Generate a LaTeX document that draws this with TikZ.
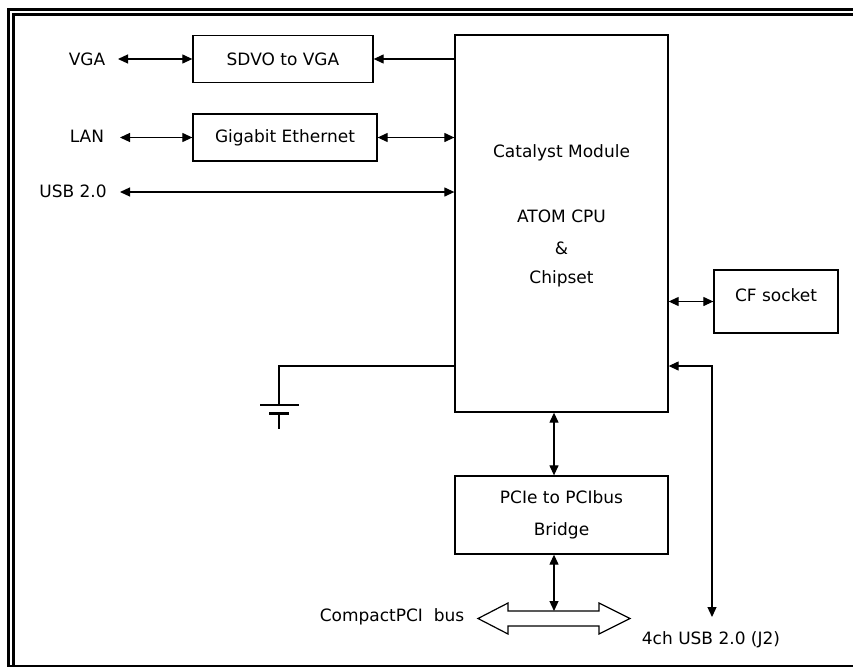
\documentclass[tikz,border=0pt]{standalone}
\usepackage{fontspec}
\setmainfont{DejaVu Sans}
\usetikzlibrary{arrows.meta}
\begin{document}
\begin{tikzpicture}[x=1pt,y=-1pt,
  blk/.style={draw,line width=1.3pt,inner sep=0pt,font=\fontsize{17}{20}\selectfont},
  lbl/.style={inner sep=0pt,font=\fontsize{17}{20}\selectfont},
  conn/.style={line width=1.2pt,arrows={Triangle[length=10pt,width=9pt]-Triangle[length=10pt,width=9pt]}},
  connr/.style={line width=1.2pt,-{Triangle[length=10pt,width=9pt]}},
  frame/.style={line width=3pt}]
\useasboundingbox (0,0) rectangle (853,667);
% frame
\draw[frame] (853,9.5) -- (8.5,9.5) -- (8.5,667);
\draw[frame] (853,14.5) -- (13.5,14.5) -- (13.5,665);
\draw[line width=2pt] (8.5,665.5) -- (853,665.5);
% blocks
\node[blk,minimum width=180pt,minimum height=47pt] (sdvo) at (283,59) {SDVO to VGA};
\node[blk,minimum width=184pt,minimum height=47pt] (gig) at (285,137.5) {Gigabit Ethernet};
\node[blk,minimum width=213pt,minimum height=377pt] (cat) at (561.5,223.5) {};
\node[lbl] (t1) at (561.5,153) {Catalyst Module};
\node[lbl] (t2) at (561.5,216) {ATOM CPU};
\node[lbl] (t3) at (561.5,248) {\&};
\node[lbl] (t4) at (561.5,279) {Chipset};
\node[blk,minimum width=124pt,minimum height=63pt] (cf) at (776,301.5) {};
\node[lbl] (cft) at (776,295) {CF socket};
\node[blk,minimum width=213pt,minimum height=78pt,align=center,font=\fontsize{17}{32}\selectfont] (br) at (561.5,515) {PCIe to PCIbus\\Bridge};
% labels
\node[lbl] (vga) at (87,59) {VGA};
\node[lbl] (lan) at (87,136) {LAN};
\node[lbl] (usb) at (73,191) {USB 2.0};
\node[lbl] (cpci) at (392,617) {CompactPCI\ \ bus};
\node[lbl] (usb4) at (711,640) {4ch USB 2.0 (J2)};
% coordinates
\coordinate (vgae) at (118,59);
\coordinate (lane) at (120,137.5);
\coordinate (usbe) at (120,192);
\coordinate (usbj) at (712,366);
\coordinate (usbt) at (712,617);
\coordinate (gnd) at (279,366);
\coordinate (gtop) at (279,405);
\coordinate (busc) at (554,611);
% connectors
\draw[conn] (vgae) -- (sdvo.west);
\draw[connr] (sdvo.east -| cat.west) -- (sdvo.east);
\draw[conn] (lane) -- (gig.west);
\draw[conn] (gig.east) -- (gig.east -| cat.west);
\draw[conn] (usbe) -- (usbe -| cat.west);
\draw[conn] (cat.east |- cf.west) -- (cf.west);
\draw[conn] (usbj -| cat.east) -- (usbj) -- (usbt);
\draw[conn] (cat.south -| busc) -- (br.north -| busc);
\draw[conn] (br.south -| busc) -- (busc);
% ground
\draw[line width=1.3pt] (gnd -| cat.west) -- (gnd) -- (gtop);
\draw[line width=1.3pt] (260,405) -- (299,405);
\draw[line width=3pt] (269,413) -- (289,413);
\draw[line width=1.3pt] (279,413) -- (279,429);
% hollow bus arrow
\draw[line width=1.2pt,fill=white] (478,618.5) -- (508,603) -- (508,611) -- (599,611) -- (599,603) -- (630,618.5) -- (599,634) -- (599,626) -- (508,626) -- (508,634) -- cycle;
\end{tikzpicture}
\end{document}
